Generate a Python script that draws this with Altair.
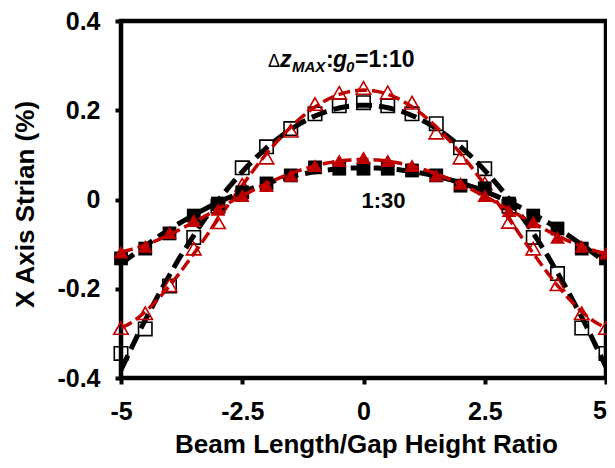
import altair as alt
import pandas as pd

ratio = [-5, -4.5, -4, -3.5, -3, -2.5, -2, -1.5, -1, -0.5, 0, 0.5, 1, 1.5, 2, 2.5, 3, 3.5, 4, 4.5, 5]
open_sq_1_10 = [-0.345, -0.29, -0.194, -0.085, -0.015, 0.071, 0.118, 0.159, 0.192, 0.21, 0.217,
                0.21, 0.192, 0.17, 0.116, 0.069, -0.015, -0.085, -0.166, -0.288, -0.345]
open_tri_1_10 = [-0.288, -0.255, -0.192, -0.11, -0.051, 0.033, 0.094, 0.154, 0.214, 0.239, 0.25,
                 0.24, 0.217, 0.15, 0.094, 0.036, -0.05, -0.11, -0.19, -0.255, -0.288]
filled_sq_1_30 = [-0.132, -0.11, -0.076, -0.036, -0.009, 0.016, 0.036, 0.054, 0.072, 0.069, 0.069,
                  0.069, 0.065, 0.054, 0.031, 0.025, -0.009, -0.036, -0.065, -0.11, -0.132]
filled_tri_1_30 = [-0.118, -0.105, -0.074, -0.047, -0.022, 0.009, 0.031, 0.054, 0.076, 0.087, 0.094,
                   0.087, 0.076, 0.054, 0.036, 0.009, -0.025, -0.05, -0.085, -0.105, -0.12]

x_ticks = [-5, -2.5, 0, 2.5, 5]
y_ticks = [-0.4, -0.2, 0, 0.2, 0.4]

RED = "#C00000"
FONT = "Liberation Sans"

rows = []
for name, vals in [("s1", open_sq_1_10), ("s2", open_tri_1_10), ("s3", filled_sq_1_30), ("s4", filled_tri_1_30)]:
    for xv, yv in zip(ratio, vals):
        rows.append({"series": name, "x": xv, "y": yv})
df = pd.DataFrame(rows)

xs = alt.Scale(domain=[-5, 5], nice=False)
ys = alt.Scale(domain=[-0.4, 0.4], nice=False)

H = 357

# last x label ("5") is drawn separately, right-aligned, so it is not cut at the page edge
xax = alt.Axis(values=x_ticks, title="Beam Length/Gap Height Ratio", labelFlush=False,
               labelExpr="datum.value == 5 ? '' : (datum.value < 0 ? '-' : '') + format(abs(datum.value), '~g')",
               titleX=245, titleY=74, titleBaseline="alphabetic", titleAnchor="middle", titleAlign="center")
yax = alt.Axis(values=y_ticks, title="X Axis Strian (%)",
               labelExpr="datum.value == 0 ? '0' : (datum.value < 0 ? '-' : '') + format(abs(datum.value), '.1f')",
               titleX=-96, titleY=183, titleAngle=-90, titleBaseline="middle", titleAlign="center")

base = alt.Chart(df)


def pts(series, shape, filled, color, size):
    return base.transform_filter(alt.datum.series == series).mark_point(
        shape=shape, filled=filled, color=color, size=size, opacity=1,
        strokeWidth=1.6 if not filled else 0,
    ).encode(x=alt.X("x:Q", scale=xs, axis=xax), y=alt.Y("y:Q", scale=ys, axis=yax))


def fit(series, order, color, width, dash):
    return base.transform_filter(alt.datum.series == series).transform_regression(
        "x", "y", method="poly", order=order, extent=[-5, 5]
    ).mark_line(color=color, strokeWidth=width, strokeDash=dash, clip=True).encode(
        x=alt.X("x:Q", scale=xs, axis=xax), y=alt.Y("y:Q", scale=ys, axis=yax))


layers = [
    pts("s1", "square", False, "black", 180),
    fit("s1", 2, "black", 5, [16, 7]),
    pts("s2", "triangle-up", False, RED, 210),
    fit("s2", 4, RED, 3.5, [12, 5]),
    pts("s3", "square", True, "black", 190),
    fit("s3", 2, "black", 5, [16, 7]),
    pts("s4", "triangle-up", True, RED, 220),
    fit("s4", 4, RED, 3.5, [12, 5]),
]

# annotations (pixel positions inside the plot area)
ann = [
    ("Δ", 147, 46, 18, "normal", "normal"),
    ("z", 159, 46, 23, "bold", "italic"),
    ("MAX", 171, 51, 15, "bold", "italic"),
    (":", 205, 46, 23, "bold", "normal"),
    ("g", 212, 46, 23, "bold", "italic"),
    ("0", 225, 51, 15, "bold", "italic"),
    ("=1:10", 234, 46, 23, "bold", "normal"),
]
for t, px, py, fs, fw, fst in ann:
    layers.append(alt.Chart(df.head(1)).mark_text(
        text=t, align="left", baseline="alphabetic", font=FONT, fontSize=fs,
        fontWeight=fw, fontStyle=fst, color="black").encode(x=alt.value(px), y=alt.value(py)))
layers.append(alt.Chart(df.head(1)).mark_text(
    text="1:30", align="center", baseline="alphabetic", font=FONT, fontSize=22,
    fontWeight="bold", color="black").encode(x=alt.value(262.5), y=alt.value(187)))
layers.append(alt.Chart(df.head(1)).mark_text(
    text="5", align="right", baseline="top", font=FONT, fontSize=25,
    fontWeight="bold", color="black").encode(x=alt.value(486), y=alt.value(H + 21)))

chart = alt.layer(*layers).properties(
    width=485, height=H,
    autosize=alt.AutoSizeParams(type="none"),
    padding={"left": 113, "top": 13, "right": 1, "bottom": 80},
).configure_view(stroke="black", strokeWidth=4.5).configure_axis(
    domain=False, grid=False, ticks=True, tickColor="black", tickWidth=4, tickSize=6,
    labelFont=FONT, labelFontSize=25, labelFontWeight="bold", labelColor="black", labelPadding=15,
    titleFont=FONT, titleFontSize=26, titleFontWeight="bold", titleColor="black",
)

chart.save("out.html", embed_options={"renderer": "svg", "actions": False})
